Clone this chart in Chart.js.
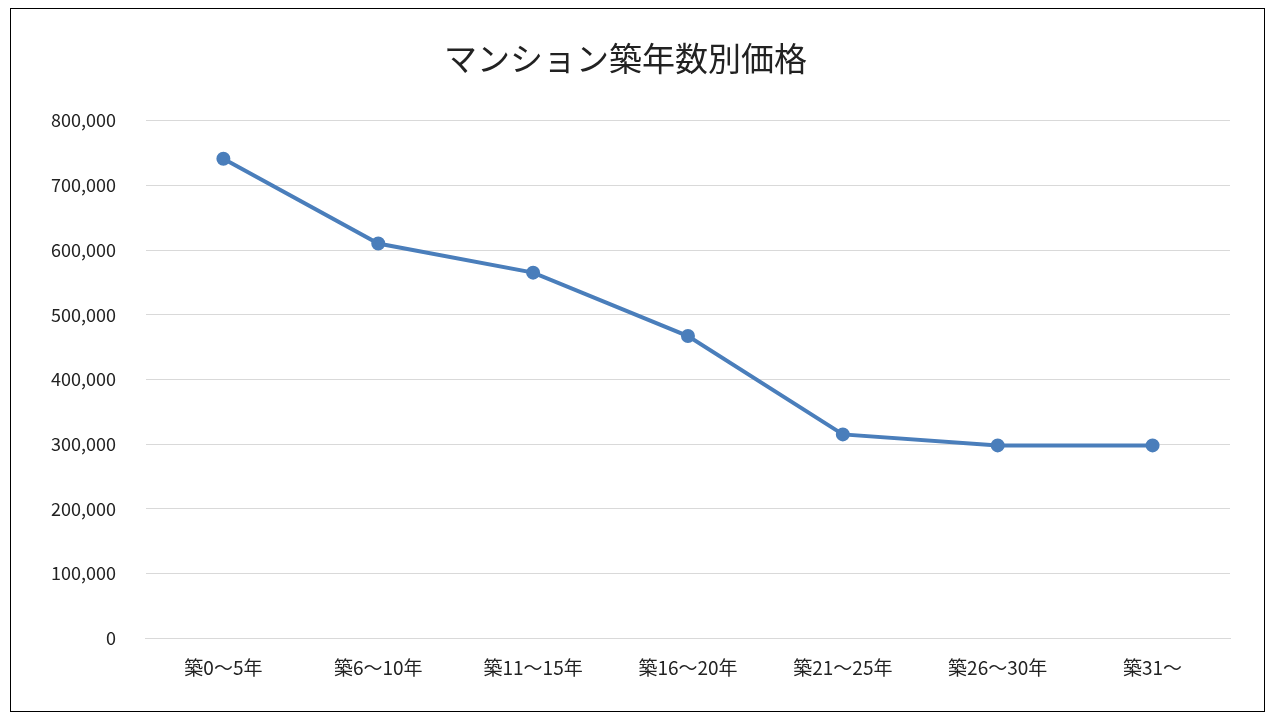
<!DOCTYPE html>
<html>
<head>
<meta charset="utf-8">
<script src="https://cdn.jsdelivr.net/npm/chart.js"></script>
<style>
  body { margin: 0; background: #fff; }
  #box { position: absolute; left: 10px; top: 8px; width: 1253px; height: 702px; border: 1px solid #000; }
</style>
</head>
<body>
<div id="box"><canvas id="chart"></canvas></div>
<script>
// data
const categories = ["築0～5年", "築6～10年", "築11～15年", "築16～20年", "築21～25年", "築26～30年", "築31～"];
const prices = [741000, 610000, 565000, 467000, 315000, 298000, 298000];
const yTicks = [0, 100000, 200000, 300000, 400000, 500000, 600000, 700000, 800000];

const font = "'Noto Sans CJK JP', 'Noto Sans', sans-serif";

new Chart(document.getElementById("chart"), {
  type: "line",
  data: {
    labels: categories,
    datasets: [{
      data: prices,
      borderColor: "#4a7ebb",
      backgroundColor: "#4a7ebb",
      borderWidth: 4,
      pointRadius: 5,
      pointHoverRadius: 5,
      tension: 0
    }]
  },
  options: {
    responsive: false,
    maintainAspectRatio: false,
    animation: false,
    layout: { padding: { left: 10, right: 34, top: 10, bottom: 22 } },
    plugins: {
      legend: { display: false },
      tooltip: { enabled: false },
      title: {
        display: true,
        text: "マンション築年数別価格",
        color: "#222",
        font: { family: font, size: 33, weight: "normal" },
        padding: { top: 20, bottom: 42 }
      }
    },
    scales: {
      x: {
        offset: true,
        grid: { display: false },
        border: { color: "#d9d9d9" },
        ticks: { color: "#222", font: { family: font, size: 19 }, maxRotation: 0, padding: 10 }
      },
      y: {
        min: 0,
        max: 800000,
        afterBuildTicks: axis => { axis.ticks = yTicks.map(v => ({ value: v })); },
        grid: { color: "#d9d9d9", drawTicks: false },
        border: { display: false },
        ticks: {
          color: "#222",
          font: { family: font, size: 18 },
          padding: 30,
          callback: v => v.toLocaleString("en-US")
        }
      }
    }
  }
});
Chart.getChart(document.getElementById("chart")).resize(1253, 702);
</script>
</body>
</html>
